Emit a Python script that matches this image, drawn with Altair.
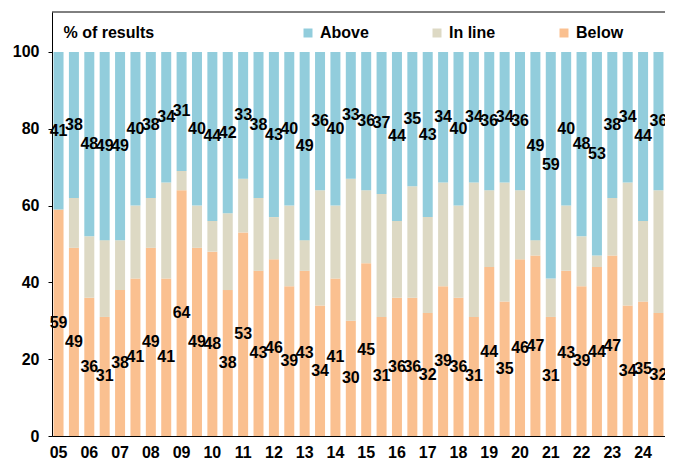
import altair as alt
import pandas as pd

years = ["05", "06", "07", "08", "09", "10", "11", "12", "13", "14",
         "15", "16", "17", "18", "19", "20", "21", "22", "23", "24"]
periods = [f"{y}H{h}" for y in years for h in (1, 2)]

below = [59, 49, 36, 31, 38, 41, 49, 41, 64, 49,
         48, 38, 53, 43, 46, 39, 43, 34, 41, 30,
         45, 31, 36, 36, 32, 39, 36, 31, 44, 35,
         46, 47, 31, 43, 39, 44, 47, 34, 35, 32]
above = [41, 38, 48, 49, 49, 40, 38, 34, 31, 40,
         44, 42, 33, 38, 43, 40, 49, 36, 40, 33,
         36, 37, 44, 35, 43, 34, 40, 34, 36, 34,
         36, 49, 59, 40, 48, 53, 38, 34, 44, 36]

series_names = ["Above", "In line", "Below"]
series_colors = ["#92CDDC", "#DDD9C4", "#FAC090"]
stack_rank = {"Below": 0, "In line": 1, "Above": 2}
y_top = 110.4

rows = []
for p, b, a in zip(periods, below, above):
    rows.append({"period": p, "series": "Below", "value": b, "ord": stack_rank["Below"]})
    rows.append({"period": p, "series": "In line", "value": 100 - a - b, "ord": stack_rank["In line"]})
    rows.append({"period": p, "series": "Above", "value": a, "ord": stack_rank["Above"]})
df = pd.DataFrame(rows)

FONT = "Liberation Sans, Arial, sans-serif"

x_enc = alt.X(
    "period:O",
    sort=periods,
    scale=alt.Scale(paddingInner=0.35, paddingOuter=0.1),
    axis=alt.Axis(
        title=None,
        labelExpr="indexof(datum.value, 'H1') >= 0 ? slice(datum.value, 0, 2) : ''",
        labelAngle=0,
        ticks=False,
        tickSize=0,
        labelPadding=8,
        labelFont=FONT,
        labelFontSize=16,
        labelFontWeight="bold",
        labelColor="black",
        domainColor="black",
    ),
)

y_scale = alt.Scale(domain=[0, y_top], nice=False, zero=True)

base = alt.Chart(df).transform_stack(
    stack="value",
    groupby=["period"],
    sort=[alt.SortField("ord", order="ascending")],
    as_=["y0", "y1"],
).transform_calculate(mid="(datum.y0 + datum.y1) / 2")

bars = base.mark_bar().encode(
    x=x_enc,
    y=alt.Y(
        "y0:Q",
        scale=y_scale,
        axis=alt.Axis(
            values=[0, 20, 40, 60, 80, 100],
            grid=False,
            tickSize=4,
            tickColor="black",
            labelPadding=9,
            labelFont=FONT,
            labelFontSize=16,
            labelFontWeight="bold",
            labelColor="black",
            domainColor="black",
            title="% of results",
            titleAngle=0,
            titleX=11,
            titleY=25,
            titleAlign="left",
            titleBaseline="alphabetic",
            titleFont=FONT,
            titleFontSize=16,
            titleFontWeight="bold",
            titleColor="black",
        ),
    ),
    y2="y1:Q",
    color=alt.Color(
        "series:N",
        scale=alt.Scale(domain=series_names, range=series_colors),
        legend=alt.Legend(
            title=None,
            orient="none",
            legendX=248,
            legendY=13,
            direction="horizontal",
            symbolType="square",
            symbolSize=81,
            symbolStrokeWidth=0,
            labelFont=FONT,
            labelFontSize=16,
            labelFontWeight="bold",
            labelColor="black",
            labelOffset=4,
            columnPadding=60,
        ),
    ),
)

labels = base.transform_filter("datum.series != 'In line'").mark_text(
    font=FONT, fontSize=16, fontWeight="bold", color="black", baseline="middle"
).encode(
    x=alt.X("period:O", sort=periods),
    y=alt.Y("mid:Q"),
    text=alt.Text("value:Q"),
)

top_line = alt.Chart(pd.DataFrame({"top": [y_top]})).mark_rule(
    color="black", strokeWidth=1
).encode(y=alt.Y("top:Q", scale=y_scale))

chart = (
    alt.layer(bars, labels, top_line)
    .properties(
        width=613,
        height=424,
        autosize=alt.AutoSizeParams(type="none"),
        padding={"left": 44, "top": 4, "right": 0, "bottom": 24},
        background="white",
    )
    .configure_view(stroke=None)
)

chart.save("out.html", embed_options={"renderer": "svg", "actions": False})
